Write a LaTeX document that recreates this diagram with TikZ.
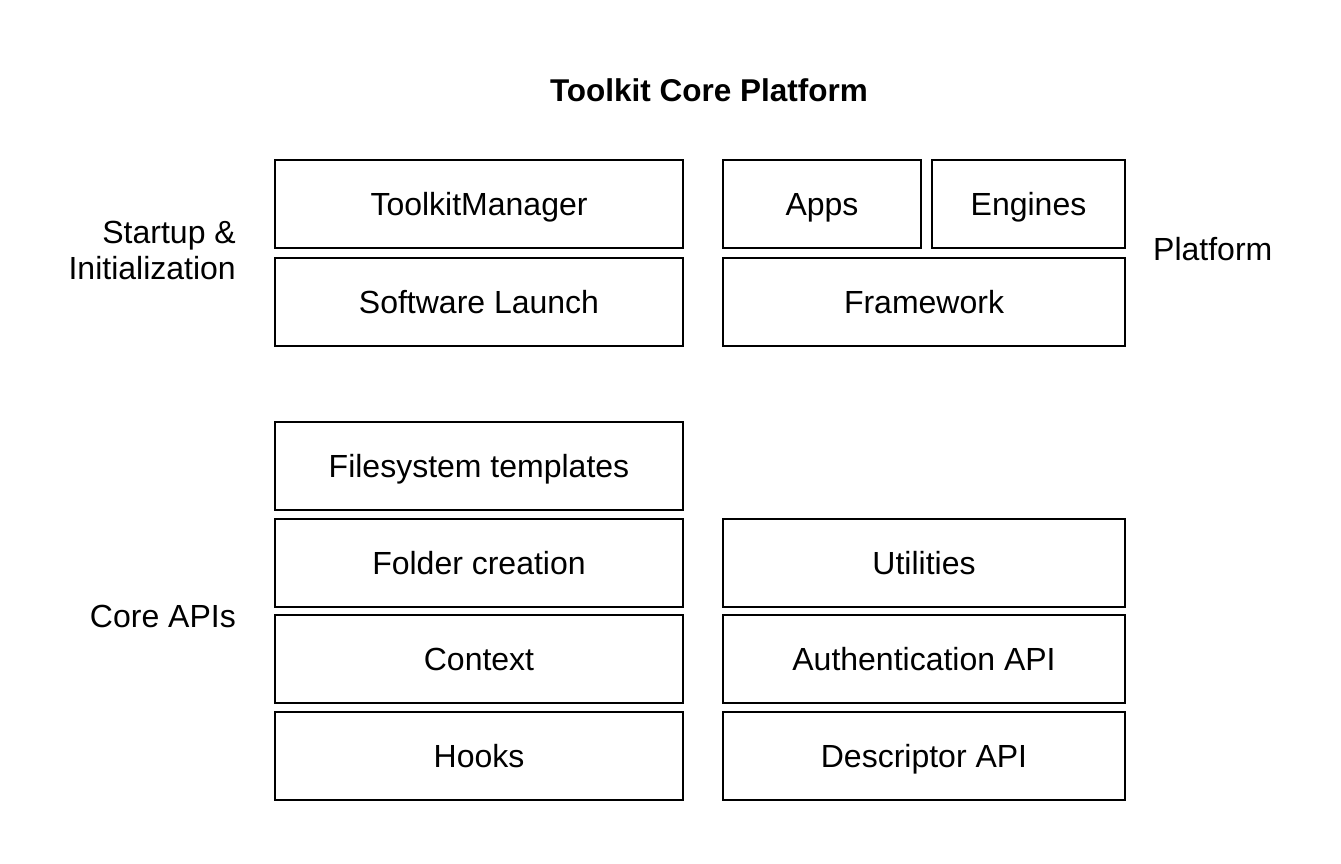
\documentclass[tikz,border=0pt]{standalone}
\usepackage{fontspec}
\setmainfont{Liberation Sans}
\tikzset{
	block/.style = {draw, line width = 2pt, minimum height = 88pt, inner sep = 0pt, text height = 23pt, text depth = 0pt},
	side/.style = {inner sep = 0pt, align = right}
}
\begin{document}
\begin{tikzpicture}[x = 1pt, y = -1pt, font = \fontsize{32}{36}\selectfont]
		\useasboundingbox[fill = white] (0, 0) rectangle (1341, 863);
		% Title
		\node[font = \fontsize{31.5}{36}\selectfont\bfseries] (title) at (709, 90) {Toolkit Core Platform};
		% Startup & Initialization
		\node[block, minimum width = 408pt] (manager) at (479, 204) {ToolkitManager};
		\node[block, minimum width = 408pt] (launch) at (479, 302) {Software Launch};
		% Platform
		\node[block, minimum width = 198pt] (apps) at (822, 204) {Apps};
		\node[block, minimum width = 193pt] (engines) at (1028.5, 204) {Engines};
		\node[block, minimum width = 402pt] (framework) at (924, 302) {Framework};
		% Core APIs
		\node[block, minimum width = 408pt] (templates) at (479, 466) {Filesystem templates};
		\node[block, minimum width = 408pt] (folders) at (479, 563) {Folder creation};
		\node[block, minimum width = 408pt] (context) at (479, 659) {Context};
		\node[block, minimum width = 408pt] (hooks) at (479, 756) {Hooks};
		\node[block, minimum width = 402pt] (utilities) at (924, 563) {Utilities};
		\node[block, minimum width = 402pt] (auth) at (924, 659) {Authentication API};
		\node[block, minimum width = 402pt] (descriptor) at (924, 756) {Descriptor API};
		% Labels
		\node[side, anchor = east] (startup) at (236, 250) {Startup \&\\Initialization};
		\node[side, anchor = west] (platform) at (1153, 249) {Platform};
		\node[side, anchor = east] (core) at (236, 616) {Core APIs};
	\end{tikzpicture}
\end{document}
